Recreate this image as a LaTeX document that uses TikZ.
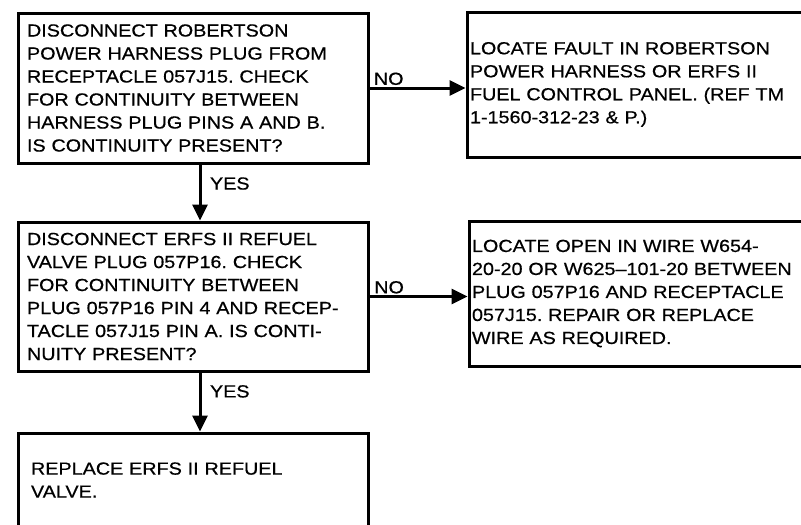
\documentclass[tikz,border=0pt]{standalone}
\usepackage{fontspec}
\setmainfont{Liberation Sans}[FakeStretch=1.13, FakeBold=0.6]
\usetikzlibrary{arrows.meta,positioning}

\begin{document}
\frenchspacing
\begin{tikzpicture}[
  x=1pt, y=-1pt,
  node distance=56pt,
  font=\fontsize{17.5}{23}\selectfont,
  query/.style={rectangle, draw, line width=3pt, align=left, inner xsep=9pt, inner ysep=0pt, text width=332pt, minimum width=350pt},
  action/.style={query, inner xsep=3pt, text width=380pt},
  arr/.style={-{Triangle[length=16pt,width=15pt]}, line width=3pt},
  lbl/.style={inner sep=1.5pt}
]
\useasboundingbox (0,0) rectangle (801,525);
\clip (0,0) rectangle (801,525);
\node[query, minimum height=150pt] (plug) at (193,88) {DISCONNECT ROBERTSON\\POWER HARNESS PLUG FROM\\RECEPTACLE 057J15. CHECK\\FOR CONTINUITY BETWEEN\\HARNESS PLUG PINS A AND B.\\IS CONTINUITY PRESENT?};
\node[query, minimum height=149pt, below=56pt of plug] (valve) {DISCONNECT ERFS II REFUEL\\VALVE PLUG 057P16. CHECK\\FOR CONTINUITY BETWEEN\\PLUG 057P16 PIN 4 AND RECEP-\\TACLE 057J15 PIN A. IS CONTI-\\NUITY PRESENT?};
\node[query, minimum height=94pt, inner xsep=13pt, text width=324pt, below=59pt of valve] (replace) {REPLACE ERFS II REFUEL\\VALVE.};
\node[action, minimum height=145pt, right=96pt of plug, yshift=3.5pt] (harness) {LOCATE FAULT IN ROBERTSON\\POWER HARNESS OR ERFS II\\FUEL CONTROL PANEL. (REF TM\\1-1560-312-23 \& P.)};
\node[action, minimum height=145pt, right=98pt of valve, yshift=3pt] (wire) {LOCATE OPEN IN WIRE W654-\\20-20 OR W625–101-20 BETWEEN\\PLUG 057P16 AND RECEPTACLE\\057J15. REPAIR OR REPLACE\\WIRE AS REQUIRED.};

\draw[arr] (plug.east) -- node[lbl, above, pos=0.2] {NO} (plug.east -| harness.west);
\draw[arr] (valve.east) -- node[lbl, above, pos=0.2] {NO} (valve.east -| wire.west);
\draw[arr] ([xshift=7pt]plug.south) -- node[lbl, right=7pt, pos=0.34] {YES} ([xshift=7pt]valve.north);
\draw[arr] ([xshift=7pt]valve.south) -- node[lbl, right=7pt, pos=0.32] {YES} ([xshift=7pt]replace.north);
\end{tikzpicture}
\end{document}
